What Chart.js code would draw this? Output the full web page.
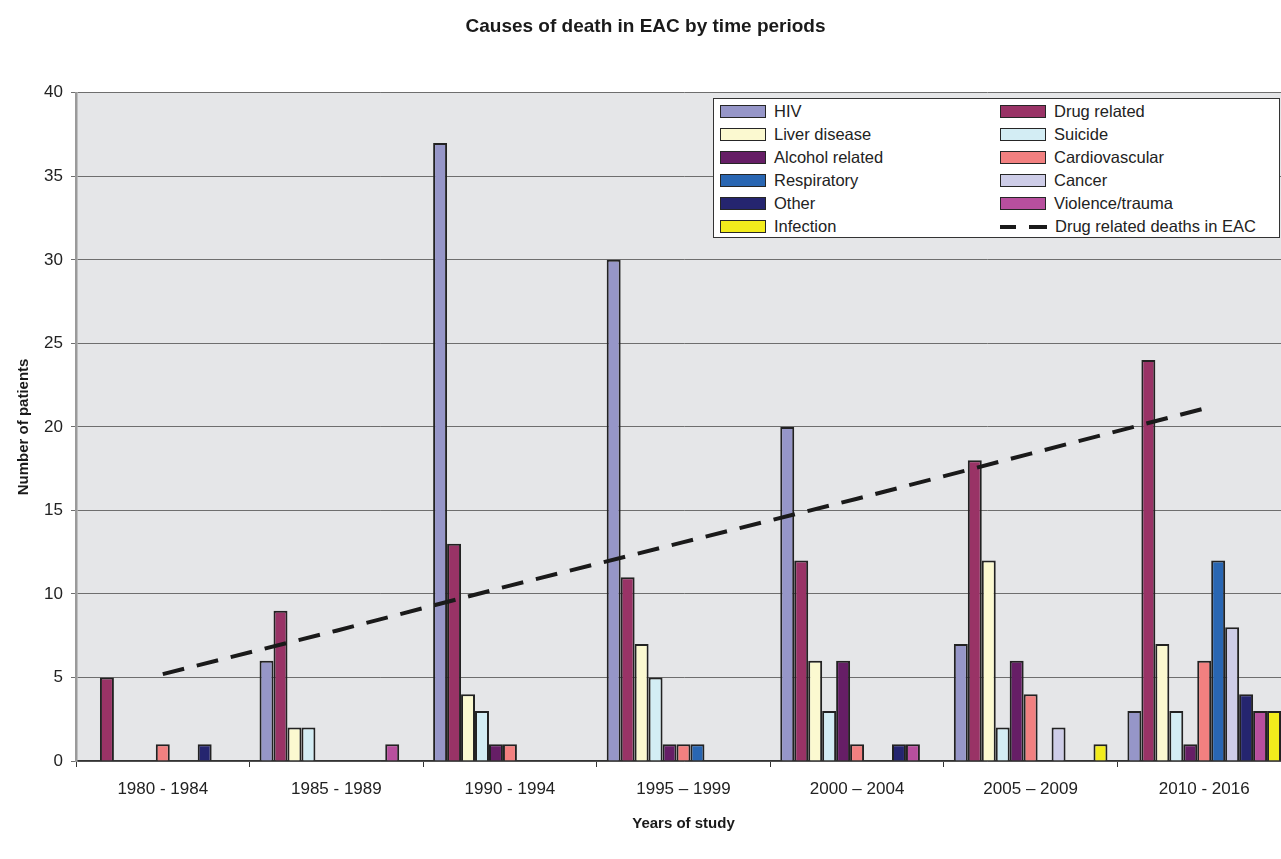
<!DOCTYPE html>
<html>
<head>
<meta charset="utf-8">
<script src="https://cdn.jsdelivr.net/npm/chart.js@4.4.1/dist/chart.umd.min.js"></script>
<style>
  html, body { margin: 0; padding: 0; background: #fff; overflow: hidden; }
  #wrap { position: relative; width: 1291px; height: 859px; }
  #legend {
    position: absolute; left: 713px; top: 98px; width: 567px; height: 140px;
    background: #fff; border: 1px solid #333; box-sizing: border-box;
    font: 16.5px "Liberation Sans", Arial, sans-serif; color: #222;
    display: grid; grid-template-columns: 280px 1fr; grid-auto-rows: 23px;
    padding: 1px 0 0 6px;
  }
  #legend .item { display: flex; align-items: center; white-space: nowrap; }
  #legend .sw { display: inline-block; width: 44px; height: 11px; border: 1.5px solid #262626; margin-right: 8px; }
  #legend .dash { display: inline-block; width: 47px; height: 4px; margin-right: 8px;
    background: linear-gradient(90deg, #1a1a1a 0 16px, transparent 16px 29px, #1a1a1a 29px 47px); }
</style>
</head>
<body>
<div id="wrap">
  <canvas id="chart"></canvas>
  <div id="legend"></div>
</div>
<script>
// --- Datos ---
const categorias = ['1980 - 1984', '1985 - 1989', '1990 - 1994', '1995 – 1999', '2000 – 2004', '2005 – 2009', '2010 - 2016'];

const hiv            = [0, 6, 37, 30, 20, 7, 3];
const drugRelated    = [5, 9, 13, 11, 12, 18, 24];
const liverDisease   = [0, 2, 4, 7, 6, 12, 7];
const suicide        = [0, 2, 3, 5, 3, 2, 3];
const alcoholRelated = [0, 0, 1, 1, 6, 6, 1];
const cardiovascular = [1, 0, 1, 1, 1, 4, 6];
const respiratory    = [0, 0, 0, 1, 0, 0, 12];
const cancer         = [0, 0, 0, 0, 0, 2, 8];
const other          = [1, 0, 0, 0, 1, 0, 4];
const violenceTrauma = [0, 1, 0, 0, 1, 0, 3];
const infection      = [0, 0, 0, 0, 0, 1, 3];
const drugTrend      = [5.2, 7.8, 10.5, 13.1, 15.7, 18.4, 21.1];

const FONT = '"Liberation Sans", Arial, sans-serif';

function barra(label, data, color) {
  return {
    type: 'bar', label, data, order: 1,
    backgroundColor: color, borderColor: '#222',
    borderWidth: c => (c.raw === 0 ? 0 : 2),   // sin borde en barras vacias
    categoryPercentage: 0.885, barPercentage: 1
  };
}

// fondo gris del area de trazado
const fondoPlot = {
  id: 'fondoPlot',
  beforeDraw(chart) {
    const { ctx, chartArea: a } = chart;
    ctx.save();
    ctx.fillStyle = '#e5e6e8';
    ctx.fillRect(a.left, a.top, a.right - a.left, a.bottom - a.top);
    ctx.restore();
  }
};

const chart = new Chart(document.getElementById('chart'), {
  data: {
    labels: categorias,
    datasets: [
      barra('HIV', hiv, '#9696c8'),
      barra('Drug related', drugRelated, '#993366'),
      barra('Liver disease', liverDisease, '#fbf9d0'),
      barra('Suicide', suicide, '#d3edf4'),
      barra('Alcohol related', alcoholRelated, '#661e66'),
      barra('Cardiovascular', cardiovascular, '#f28080'),
      barra('Respiratory', respiratory, '#2966b2'),
      barra('Cancer', cancer, '#cecde8'),
      barra('Other', other, '#25256f'),
      barra('Violence/trauma', violenceTrauma, '#b84f9e'),
      barra('Infection', infection, '#f2ec1c'),
      {
        type: 'line', label: 'Drug related deaths in EAC', data: drugTrend, order: 0,
        borderColor: '#1a1a1a', borderWidth: 4, borderDash: [22, 13],
        pointRadius: 0, fill: false, tension: 0
      }
    ]
  },
  options: {
    responsive: true,
    maintainAspectRatio: false,
    animation: false,
    layout: { padding: 0 },
    plugins: {
      legend: { display: false },
      tooltip: { enabled: false },
      title: {
        display: true, text: 'Causes of death in EAC by time periods', color: '#1a1a1a',
        font: { family: FONT, size: 19, weight: 'bold' },
        padding: { top: 15, bottom: 55 }
      }
    },
    scales: {
      x: {
        afterFit: s => { s.height = 98; },
        grid: { drawOnChartArea: false, offset: true, tickLength: 6, color: '#333', lineWidth: 1 },
        border: { color: '#333', width: 1.5 },
        ticks: { color: '#222', padding: 12, font: { family: FONT, size: 17 } },
        title: {
          display: true, text: 'Years of study', color: '#1a1a1a',
          font: { family: FONT, size: 15, weight: 'bold' }, padding: { bottom: 26 }
        }
      },
      y: {
        min: 0, max: 40,
        afterFit: s => { s.width = 76; },
        grid: { color: '#6e6e6e', lineWidth: 1, tickLength: 5 },
        border: { color: '#9a9a9a', width: 2.5 },
        ticks: { stepSize: 5, color: '#222', padding: 8, font: { family: FONT, size: 17 } },
        title: {
          display: true, text: 'Number of patients', color: '#1a1a1a',
          font: { family: FONT, size: 15, weight: 'bold' }, padding: { top: 15 }
        }
      }
    }
  },
  plugins: [fondoPlot]
});

// --- Leyenda HTML (dos columnas, dentro del area) ---
document.getElementById('legend').innerHTML = chart.data.datasets.map(ds => {
  const marca = ds.type === 'line'
    ? '<span class="dash"></span>'
    : `<span class="sw" style="background:${ds.backgroundColor}"></span>`;
  return `<div class="item">${marca}${ds.label}</div>`;
}).join('');
</script>
</body>
</html>
